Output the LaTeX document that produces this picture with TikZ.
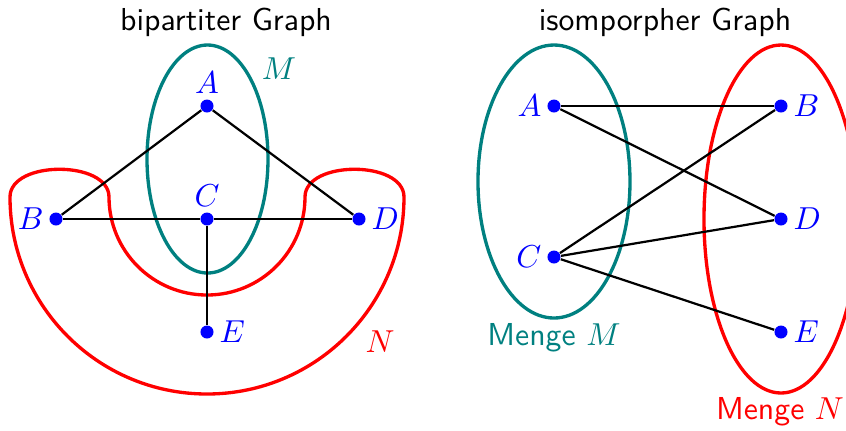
\documentclass[tikz,border=0pt]{standalone}
\begin{document}
\begin{tikzpicture}[x=0.315pt,y=-0.315pt,
  dot/.style={circle,fill=blue,inner sep=0pt,minimum size=4.1pt},
  lbl/.style={text=blue,inner sep=1.5pt},
  edge/.style={black,line width=0.7pt},
  setM/.style={draw=teal,line width=1.05pt},
  setN/.style={draw=red,line width=1.05pt},
  title/.style={font=\sffamily}]
\useasboundingbox (0,0) rectangle (846,430);
\clip (0,0) rectangle (846,430);

% titles
\node[title] (t1) at (226,22) {bipartiter Graph};
\node[title] (t2) at (665,22) {isomporpher Graph};

% ---- left graph: sets
\draw[setM] (207.5,159) ellipse [x radius=60.5, y radius=114];
\draw[setN] (10,197) arc [start angle=180, end angle=0, radius=197]
  .. controls (404,160) and (305,160) .. (305,197)
  arc [start angle=0, end angle=180, radius=98]
  .. controls (109,160) and (10,160) .. cycle;
\node[text=teal] (lM) at (279,69) {$M$};
\node[text=red] (lN) at (380,342) {$N$};

% left nodes
\node[dot,label={[lbl]above:$A$}] (A1) at (207,106) {};
\node[dot,label={[lbl]left:$B$}]  (B1) at (56,219) {};
\node[dot,label={[lbl]above:$C$}] (C1) at (207,219) {};
\node[dot,label={[lbl]right:$D$}] (D1) at (359,219) {};
\node[dot,label={[lbl]right:$E$}] (E1) at (207,332) {};

\draw[edge] (A1) -- (B1);
\draw[edge] (A1) -- (D1);
\draw[edge] (B1) -- (C1);
\draw[edge] (C1) -- (D1);
\draw[edge] (C1) -- (E1);

% ---- right graph: sets
\draw[setM] (554,181.5) ellipse [x radius=76, y radius=136.5];
\draw[setN] (781,219) ellipse [x radius=77, y radius=174];
\node[text=teal,font=\sffamily] (mM) at (554,338) {Menge $M$};
\node[text=red,font=\sffamily] (mN) at (780,412) {Menge $N$};

\node[dot,label={[lbl]left:$A$}]  (A2) at (554,106) {};
\node[dot,label={[lbl]right:$B$}] (B2) at (781,106) {};
\node[dot,label={[lbl]left:$C$}]  (C2) at (554,257) {};
\node[dot,label={[lbl]right:$D$}] (D2) at (781,219) {};
\node[dot,label={[lbl]right:$E$}] (E2) at (781,332) {};

\draw[edge] (A2) -- (B2);
\draw[edge] (A2) -- (D2);
\draw[edge] (C2) -- (B2);
\draw[edge] (C2) -- (D2);
\draw[edge] (C2) -- (E2);
\end{tikzpicture}
\end{document}
